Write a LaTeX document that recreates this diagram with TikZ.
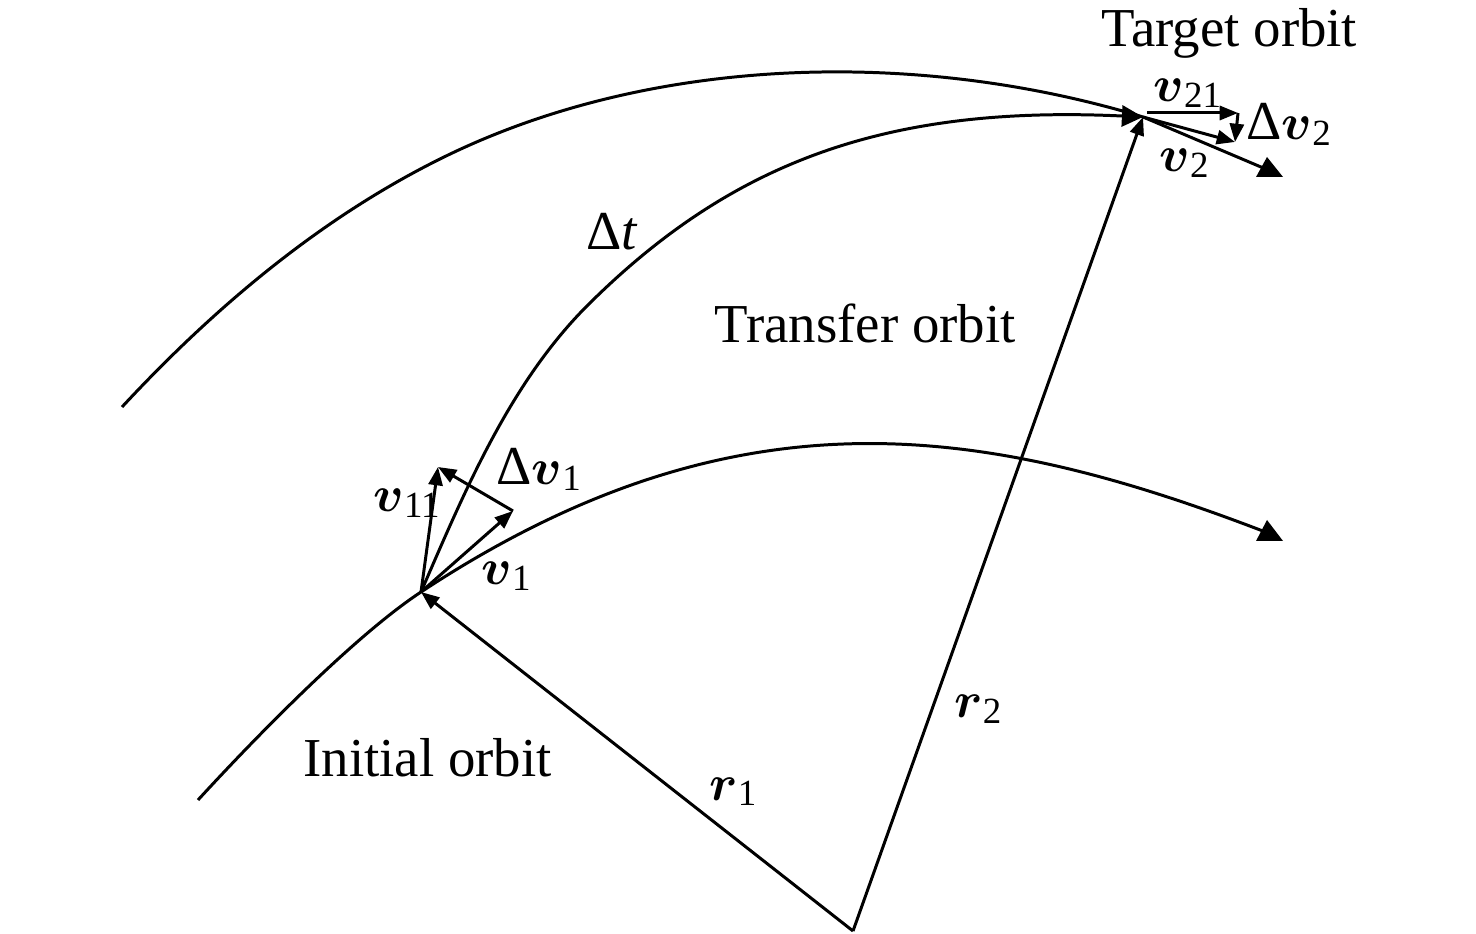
\documentclass[tikz,border=0pt]{standalone}
\usepackage{fontspec}
\usepackage{bm}
\setmainfont{Liberation Serif}
\usetikzlibrary{arrows.meta}
\newcommand{\bvec}[2]{$\bm{#1}$\raisebox{-1.6pt}{\fontsize{10.5}{12}\selectfont #2}}
\begin{document}
\begin{tikzpicture}[x=0.01cm,y=-0.01cm, line width=0.85pt, line join=round,
  vec/.style={-{Triangle[length=5.2pt,width=4pt]}},
  bigtip/.style={-{Triangle[length=6pt,width=6pt]}},
  lbl/.style={inner sep=0pt, anchor=base west, font=\fontsize{15.6}{18}\selectfont}]
\useasboundingbox (0,0) rectangle (1476,934);
% key points
\coordinate (O) at (853,931);
\coordinate (P1) at (421,592);
\coordinate (P2) at (1143,117);
\coordinate (V1) at (513,511);
\coordinate (V11) at (438,467);
\coordinate (V21) at (1238,113);
\coordinate (V2) at (1235,142);
\coordinate (IEnd) at (1268,533);
\coordinate (TEnd) at (1268,170);
% initial orbit
\draw (198,800) .. controls (252,741) and (354,636) .. (P1)
      .. controls (738,383) and (988,425) .. (IEnd);
\fill (1267,520) -- (1256,541) -- (1283,541) -- cycle;
% target orbit
\draw (122,407) .. controls (213,309) and (318,220) .. (438,160)
      .. controls (647,55) and (916,48) .. (P2) -- (TEnd);
\fill (1267,157) -- (1256,177) -- (1283,177) -- cycle;
% transfer orbit
\draw[bigtip] (P1) .. controls (466,488) and (512,378) .. (593,300)
      .. controls (736,160) and (890,105) .. (P2);
% radius vectors
\draw[vec] (O) -- (P1);
\draw[vec] (O) -- (P2);
% velocity vectors at departure
\draw[vec] (P1) -- (V1);
\draw[vec] (P1) -- (V11);
\draw[vec] (V1) -- (V11);
% velocity vectors at arrival
\draw[vec] (1147,113) -- (V21);
\draw[vec] (V21) -- (V2);
\draw[vec] (P2) -- (V2);
% labels
\node[lbl] (ltarget) at (1100,47) {Target orbit};
\node[lbl] (ltransfer) at (713,343) {Transfer orbit};
\node[lbl] (linitial) at (302,776) {Initial orbit};
\node[lbl] (ldt) at (585,250) {Δ\textit{t}};
\node[lbl] (lv21) at (1152,102) {\bvec{v}{21}};
\node[lbl] (ldv2) at (1245,140) {Δ\bvec{v}{2}};
\node[lbl] (lv2) at (1158,172) {\bvec{v}{2}};
\node[lbl] (lv11) at (372,512) {\bvec{v}{11}};
\node[lbl] (ldv1) at (495,485) {Δ\bvec{v}{1}};
\node[lbl] (lv1) at (480,585) {\bvec{v}{1}};
\node[lbl] (lr1) at (708,800) {\bvec{r}{1}};
\node[lbl] (lr2) at (953,718) {\bvec{r}{2}};
\end{tikzpicture}
\end{document}
